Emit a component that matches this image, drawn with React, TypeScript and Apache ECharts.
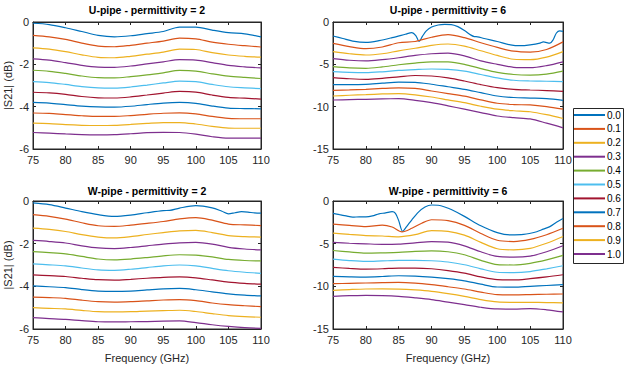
import React, { useEffect, useRef } from "react";
import * as echarts from "echarts";

const FREQ = [75, 77.5, 80, 82.5, 85, 87.5, 90, 92.5, 95, 97.5, 100, 102.5, 105, 107.5, 110];
const LEGEND = ["0.0", "0.1", "0.2", "0.3", "0.4", "0.5", "0.6", "0.7", "0.8", "0.9", "1.0"];
const COLORS = ["#0072BD", "#D95319", "#EDB120", "#7E2F8E", "#77AC30", "#4DBEEE", "#A2142F", "#0072BD", "#D95319", "#EDB120", "#7E2F8E"];
const TITLES = ["U-pipe - permittivity = 2", "U-pipe - permittivity = 6", "W-pipe - permittivity = 2", "W-pipe - permittivity = 6"];

// U-pipe, permittivity 2
const U2 = [
  [-0.06, -0.12, -0.27, -0.45, -0.63, -0.70, -0.65, -0.55, -0.45, -0.24, -0.24, -0.38, -0.50, -0.56, -0.70],
  [-0.63, -0.70, -0.82, -1.0, -1.14, -1.17, -1.10, -1.00, -0.90, -0.76, -0.80, -0.95, -1.05, -1.12, -1.18],
  [-1.22, -1.28, -1.40, -1.55, -1.67, -1.69, -1.62, -1.52, -1.42, -1.28, -1.30, -1.45, -1.56, -1.62, -1.66],
  [-1.74, -1.80, -1.92, -2.05, -2.13, -2.14, -2.08, -1.98, -1.88, -1.78, -1.80, -1.92, -2.05, -2.12, -2.17],
  [-2.28, -2.33, -2.43, -2.55, -2.63, -2.64, -2.58, -2.50, -2.40, -2.29, -2.32, -2.45, -2.56, -2.62, -2.67],
  [-2.82, -2.86, -2.95, -3.05, -3.11, -3.12, -3.07, -2.98, -2.88, -2.79, -2.82, -2.95, -3.06, -3.11, -3.15],
  [-3.32, -3.35, -3.42, -3.52, -3.58, -3.59, -3.54, -3.45, -3.36, -3.28, -3.31, -3.45, -3.56, -3.60, -3.64],
  [-3.80, -3.83, -3.90, -3.97, -4.01, -4.02, -3.98, -3.90, -3.83, -3.80, -3.84, -3.97, -4.07, -4.09, -4.10],
  [-4.30, -4.32, -4.38, -4.43, -4.46, -4.46, -4.42, -4.36, -4.31, -4.29, -4.34, -4.46, -4.55, -4.57, -4.57],
  [-4.78, -4.80, -4.85, -4.88, -4.89, -4.88, -4.84, -4.79, -4.75, -4.75, -4.82, -4.93, -5.01, -5.02, -5.02],
  [-5.22, -5.25, -5.29, -5.32, -5.33, -5.32, -5.28, -5.23, -5.21, -5.22, -5.30, -5.42, -5.49, -5.49, -5.49],
];

// U-pipe, permittivity 6 (first curve on its own frequency grid)
const U6_FREQ0 = [75, 76.5, 78, 80, 82, 84, 86, 87, 87.6, 88.1, 88.6, 89.2, 90, 91, 92, 93, 94, 95, 96, 96.5, 97, 98, 100, 102, 103.5, 105, 106.5, 107, 108, 108.5, 109, 109.5, 110];
const U6_0 = [-1.65, -1.95, -2.25, -2.4, -2.2, -1.85, -1.45, -1.25, -1.6, -2.3, -1.7, -1.05, -0.6, -0.35, -0.28, -0.3, -0.55, -1.0, -1.55, -1.72, -1.75, -1.95, -2.3, -2.7, -2.8, -2.7, -2.5, -2.35, -2.5, -2.1, -1.3, -1.05, -1.1];
const U6 = [
  [-2.52, -2.9, -3.15, -2.95, -2.45, -2.3, -1.8, -1.5, -1.85, -2.45, -3.0, -3.45, -3.55, -3.25, -2.35],
  [-3.5, -3.75, -3.9, -3.75, -3.4, -3.1, -2.75, -2.6, -2.85, -3.4, -3.95, -4.4, -4.45, -4.15, -3.5],
  [-4.33, -4.52, -4.6, -4.45, -4.22, -3.95, -3.75, -3.68, -4.0, -4.6, -5.0, -5.35, -5.4, -5.15, -4.7],
  [-5.28, -5.42, -5.47, -5.3, -5.05, -4.85, -4.7, -4.72, -5.0, -5.5, -5.95, -6.2, -6.27, -6.15, -5.8],
  [-5.87, -5.95, -5.98, -5.88, -5.72, -5.62, -5.55, -5.6, -5.8, -6.2, -6.6, -6.88, -6.97, -7.0, -7.05],
  [-6.57, -6.7, -6.77, -6.65, -6.48, -6.32, -6.38, -6.6, -6.97, -7.4, -7.76, -7.95, -8.03, -8.1, -8.2],
  [-7.4, -7.4, -7.36, -7.22, -7.1, -7.12, -7.35, -7.65, -7.95, -8.35, -8.74, -8.92, -8.98, -9.05, -9.25],
  [-8.07, -8.02, -7.95, -7.85, -7.78, -7.85, -8.15, -8.45, -8.75, -9.2, -9.6, -9.75, -9.8, -10.0, -10.3],
  [-8.74, -8.65, -8.58, -8.5, -8.46, -8.6, -8.86, -9.2, -9.53, -9.95, -10.3, -10.48, -10.6, -10.95, -11.4],
  [-9.21, -9.17, -9.13, -9.08, -9.06, -9.25, -9.53, -9.9, -10.3, -10.7, -11.1, -11.3, -11.45, -11.95, -12.5],
];

// W-pipe, permittivity 2 (first curve on its own frequency grid)
const W2_FREQ0 = [75, 77.5, 80, 82.5, 85, 87.5, 90, 92.5, 95, 96, 97.5, 100, 102.5, 104, 105, 106, 107, 108, 109, 110];
const W2_0 = [-0.09, -0.17, -0.33, -0.5, -0.64, -0.72, -0.66, -0.55, -0.45, -0.44, -0.33, -0.22, -0.32, -0.48, -0.6, -0.55, -0.5, -0.52, -0.56, -0.57];
const W2 = [
  [-0.64, -0.72, -0.85, -1.02, -1.16, -1.19, -1.13, -1.05, -0.96, -0.84, -0.78, -0.9, -1.08, -1.12, -1.15],
  [-1.27, -1.33, -1.43, -1.58, -1.69, -1.73, -1.67, -1.57, -1.48, -1.4, -1.38, -1.48, -1.62, -1.67, -1.69],
  [-1.85, -1.9, -1.97, -2.1, -2.2, -2.23, -2.18, -2.1, -2.02, -1.96, -1.94, -2.02, -2.17, -2.25, -2.29],
  [-2.37, -2.42, -2.48, -2.6, -2.72, -2.76, -2.72, -2.65, -2.57, -2.52, -2.54, -2.62, -2.74, -2.79, -2.81],
  [-2.95, -2.99, -3.04, -3.14, -3.23, -3.25, -3.2, -3.12, -3.04, -3.0, -3.04, -3.16, -3.27, -3.34, -3.39],
  [-3.46, -3.5, -3.54, -3.62, -3.69, -3.71, -3.67, -3.62, -3.58, -3.56, -3.6, -3.7, -3.8, -3.86, -3.9],
  [-3.98, -4.02, -4.06, -4.15, -4.22, -4.24, -4.22, -4.17, -4.12, -4.1, -4.16, -4.26, -4.35, -4.41, -4.45],
  [-4.51, -4.53, -4.56, -4.65, -4.72, -4.74, -4.72, -4.68, -4.64, -4.62, -4.67, -4.78, -4.86, -4.91, -4.95],
  [-5.0, -5.03, -5.06, -5.13, -5.19, -5.2, -5.19, -5.16, -5.14, -5.12, -5.18, -5.28, -5.37, -5.42, -5.45],
  [-5.47, -5.51, -5.55, -5.61, -5.66, -5.67, -5.66, -5.65, -5.63, -5.62, -5.7, -5.8, -5.88, -5.94, -5.97],
];

// W-pipe, permittivity 6 (first two curves on their own frequency grids)
const W6_FREQ0 = [75, 76, 77, 78, 79, 80, 81, 82, 83, 84, 84.5, 85, 85.6, 86.2, 87, 88, 89, 90, 91, 92, 93, 95, 97.5, 100, 102, 104, 106, 107, 108, 109, 110];
const W6_0 = [-1.44, -1.6, -1.75, -1.9, -1.85, -1.85, -1.75, -1.5, -1.4, -1.25, -1.45, -2.3, -3.55, -3.0, -2.2, -1.3, -0.7, -0.47, -0.5, -0.7, -1.0, -1.8, -2.9, -3.7, -3.97, -3.92, -3.6, -3.3, -3.0, -2.5, -2.05];
const W6_FREQ1 = [75, 77.5, 80, 82.5, 84, 85.5, 87, 88.5, 90, 92.5, 95, 97.5, 100, 102.5, 105, 107.5, 110];
const W6_1 = [-2.72, -2.85, -3.0, -2.82, -3.05, -3.62, -3.2, -2.6, -2.2, -2.3, -2.85, -3.8, -4.6, -4.75, -4.5, -3.95, -3.2];
const W6 = [
  [-3.77, -3.92, -4.05, -4.1, -4.2, -3.95, -3.48, -3.55, -4.0, -4.85, -5.6, -5.72, -5.55, -4.95, -4.16],
  [-4.86, -4.95, -5.02, -5.08, -5.05, -4.9, -4.76, -4.82, -5.25, -5.95, -6.5, -6.58, -6.45, -5.95, -5.25],
  [-5.8, -5.97, -6.11, -6.08, -6.03, -5.9, -5.84, -5.95, -6.3, -6.95, -7.45, -7.5, -7.3, -6.9, -6.38],
  [-6.81, -6.98, -7.08, -7.02, -6.96, -6.95, -7.0, -7.15, -7.47, -7.95, -8.35, -8.4, -8.27, -7.95, -7.59],
  [-7.78, -7.9, -7.98, -7.94, -7.86, -7.86, -7.94, -8.15, -8.45, -8.9, -9.22, -9.25, -9.1, -8.9, -8.64],
  [-8.83, -8.88, -8.91, -8.85, -8.76, -8.8, -8.92, -9.1, -9.35, -9.75, -10.08, -10.1, -10.0, -9.9, -9.8],
  [-9.69, -9.65, -9.61, -9.56, -9.53, -9.62, -9.81, -10.05, -10.31, -10.68, -10.97, -11.0, -10.97, -10.93, -10.9],
  [-10.47, -10.38, -10.31, -10.3, -10.32, -10.42, -10.58, -10.85, -11.17, -11.55, -11.83, -11.88, -11.88, -11.9, -11.95],
  [-11.17, -11.1, -11.05, -11.08, -11.17, -11.35, -11.56, -11.85, -12.14, -12.45, -12.65, -12.67, -12.61, -12.75, -13.0],
];

const Y_RANGES = [
  { min: -6, max: 0, interval: 2 },
  { min: -15, max: 0, interval: 5 },
  { min: -6, max: 0, interval: 2 },
  { min: -15, max: 0, interval: 5 },
];

const pairs = (xs: number[], ys: number[]) => xs.map((x, i) => [x, ys[i]]);

// Curves per panel as [freq, values]
const PANELS: Array<Array<[number[], number[]]>> = [
  U2.map((v) => [FREQ, v] as [number[], number[]]),
  [[U6_FREQ0, U6_0], ...U6.map((v) => [FREQ, v] as [number[], number[]])],
  [[W2_FREQ0, W2_0], ...W2.map((v) => [FREQ, v] as [number[], number[]])],
  [[W6_FREQ0, W6_0], [W6_FREQ1, W6_1], ...W6.map((v) => [FREQ, v] as [number[], number[]])],
];

const AX = "#262626";
const FONT = "'Liberation Sans', Arial, Helvetica, sans-serif";

export default function App() {
  const ref = useRef<HTMLDivElement>(null);
  useEffect(() => {
    document.body.style.margin = "0";
    const chart = echarts.init(ref.current!, null, { renderer: "svg" });
    const grids = [
      { left: 33, top: 22, width: 228, height: 127 },
      { left: 333, top: 22, width: 230, height: 127 },
      { left: 33, top: 201, width: 228, height: 128 },
      { left: 333, top: 201, width: 230, height: 128 },
    ];
    const titleTops = [4, 4, 185, 185];
    const series: any[] = [];
    PANELS.forEach((curves, p) => {
      curves.forEach(([xs, ys], i) => {
        series.push({
          type: "line",
          name: LEGEND[i],
          xAxisIndex: p,
          yAxisIndex: p,
          data: pairs(xs, ys),
          symbol: "none",
          smooth: 0.3,
          lineStyle: { width: 1.2, color: COLORS[i] },
          itemStyle: { color: COLORS[i] },
        });
      });
    });
    const tick = { show: true, inside: true, length: 3, lineStyle: { color: AX } };
    const xMain = grids.map((_, i) => ({
      type: "value",
      gridIndex: i,
      min: 75,
      max: 110,
      interval: 5,
      name: i >= 2 ? "Frequency (GHz)" : "",
      nameLocation: "middle",
      nameGap: 23,
      nameTextStyle: { fontSize: 11, color: AX, fontFamily: FONT },
      axisLine: { show: true, onZero: false, lineStyle: { color: AX } },
      axisTick: tick,
      axisLabel: { fontSize: 11, color: AX, margin: 5, fontFamily: FONT },
      splitLine: { show: false },
    }));
    const xTop = grids.map((_, i) => ({
      type: "value",
      gridIndex: i,
      position: "top",
      min: 75,
      max: 110,
      interval: 5,
      axisLine: { show: true, onZero: false, lineStyle: { color: AX } },
      axisTick: tick,
      axisLabel: { show: false },
      splitLine: { show: false },
    }));
    const yMain = grids.map((_, i) => ({
      type: "value",
      gridIndex: i,
      ...Y_RANGES[i],
      name: i % 2 === 0 ? "|S21| (dB)" : "",
      nameLocation: "middle",
      nameGap: 20,
      nameTextStyle: { fontSize: 11, color: AX, fontFamily: FONT },
      axisLine: { show: true, onZero: false, lineStyle: { color: AX } },
      axisTick: tick,
      axisLabel: { fontSize: 11, color: AX, margin: 4, fontFamily: FONT },
      splitLine: { show: false },
    }));
    const yRight = grids.map((_, i) => ({
      type: "value",
      gridIndex: i,
      position: "right",
      ...Y_RANGES[i],
      axisLine: { show: true, onZero: false, lineStyle: { color: AX } },
      axisTick: tick,
      axisLabel: { show: false },
      splitLine: { show: false },
    }));
    chart.setOption({
      animation: false,
      textStyle: { fontFamily: FONT },
      title: TITLES.map((t, i) => ({
        text: t,
        left: grids[i].left + grids[i].width / 2,
        top: titleTops[i],
        textAlign: "center",
        padding: 0,
        textStyle: { fontSize: 10.5, fontWeight: "bold", color: "#000", fontFamily: FONT },
      })),
      grid: grids.map((g) => ({ ...g, show: true, borderColor: AX, borderWidth: 1, backgroundColor: "#fff" })),
      xAxis: [...xMain, ...xTop],
      yAxis: [...yMain, ...yRight],
      legend: {
        data: LEGEND,
        orient: "vertical",
        left: 573,
        top: 110,
        padding: 0,
        itemWidth: 31,
        itemHeight: 10,
        itemGap: 3.9,
        itemStyle: { opacity: 0 },
        textStyle: { fontSize: 10, color: "#000", fontFamily: FONT, padding: [0, 0, 0, -3] },
        selectedMode: false,
      },
      graphic: [
        {
          type: "rect",
          shape: { x: 573.5, y: 108.5, width: 50, height: 155 },
          style: { fill: "#fff", stroke: AX, lineWidth: 1 },
          z: -1,
          silent: true,
        },
      ],
      series,
    });
    return () => chart.dispose();
  }, []);
  return <div ref={ref} style={{ width: 624, height: 365 }} />;
}
